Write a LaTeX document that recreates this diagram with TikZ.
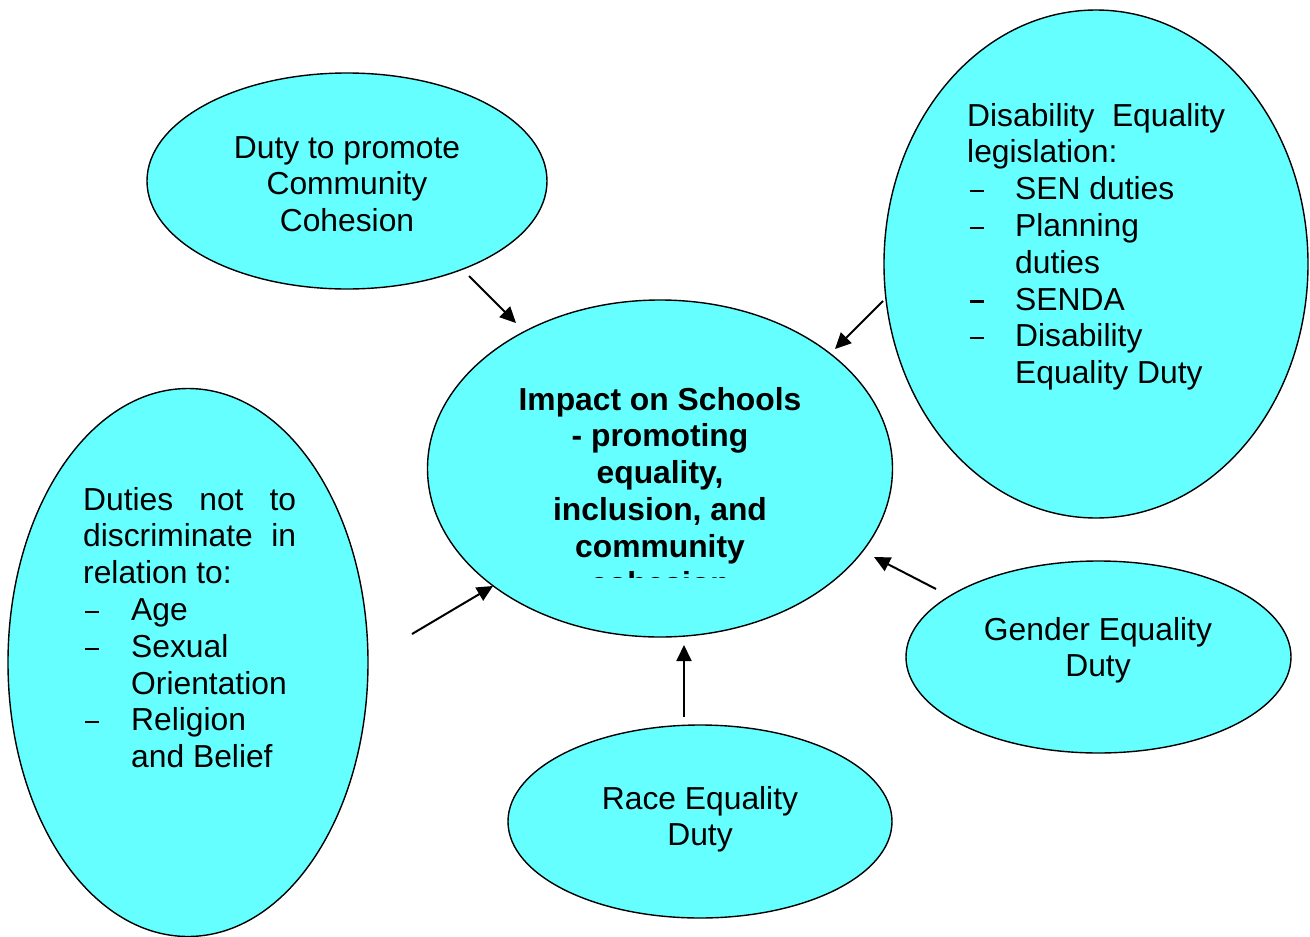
\documentclass[tikz,border=0pt]{standalone}
\usepackage{fontspec}
\setmainfont{Liberation Sans}
\usetikzlibrary{shapes.geometric,arrows.meta}
\definecolor{bubble}{RGB}{102,255,255}
\newcommand{\dashitem}[1]{\makebox[48pt][l]{\hspace{#1}\rule[7.5pt]{14pt}{2.2pt}}}
\begin{document}
\begin{tikzpicture}[x=1pt,y=-1pt,
  bub/.style={draw=black,line width=1.4pt,fill=bubble,ellipse,inner sep=0pt},
  txt/.style={inner sep=0pt,anchor=base,font=\fontsize{31.8}{36.8}\selectfont},
  conn/.style={line width=2pt,-{Triangle[length=16pt,width=15pt]}}]
\useasboundingbox (0,0) rectangle (1310,937);
% ellipses
\node[bub,minimum width=400pt,minimum height=216pt] (comm) at (347,181) {};
\node[bub,minimum width=424pt,minimum height=508pt] (dis) at (1096,264) {};
\node[bub,minimum width=465pt,minimum height=337pt] (imp) at (660,468.5) {};
\node[bub,minimum width=360pt,minimum height=548pt] (discr) at (188,662.5) {};
\node[bub,minimum width=385pt,minimum height=192pt] (gen) at (1098.5,657) {};
\node[bub,minimum width=384pt,minimum height=193pt] (race) at (700,821.5) {};
% texts
\node[txt] (commt) at (347,158) {\begin{tabular}[t]{@{}c@{}}Duty to promote\\Community\\Cohesion\end{tabular}};
\node[txt,anchor=base west] (dist) at (967,126) {\begin{tabular}[t]{@{}l@{}}\makebox[258pt][s]{Disability Equality}\\legislation:\\
\dashitem{2.5pt}SEN duties\\
\dashitem{2.5pt}Planning\\
\hspace{48pt}duties\\
\dashitem{2.5pt}SENDA\\
\dashitem{2.5pt}Disability\\
\hspace{48pt}Equality Duty\end{tabular}};
\begin{scope}
\clip (430,300) rectangle (893,577);
\node[txt,font=\fontsize{31.8}{36.8}\selectfont\bfseries] (impt) at (660,410) {\begin{tabular}[t]{@{}c@{}}Impact on Schools\\- promoting\\equality,\\inclusion, and\\community\\cohesion\end{tabular}};
\end{scope}
\node[txt,anchor=base west] (discrt) at (83,510) {\begin{tabular}[t]{@{}l@{}}\makebox[213pt][s]{Duties not to}\\\makebox[213pt][s]{discriminate in}\\relation to:\\
\dashitem{2pt}Age\\
\dashitem{2pt}Sexual\\
\hspace{48pt}Orientation\\
\dashitem{2pt}Religion\\
\hspace{48pt}and Belief\end{tabular}};
\node[txt] (gent) at (1098,640) {\begin{tabular}[t]{@{}c@{}}Gender Equality\\Duty\end{tabular}};
\node[txt] (racet) at (700,809) {\begin{tabular}[t]{@{}c@{}}Race Equality\\Duty\end{tabular}};
% arrow end points
\coordinate (c1) at (469,276); \coordinate (i1) at (516,323);
\coordinate (c2) at (883,301); \coordinate (i2) at (835,349);
\coordinate (c3) at (412,634); \coordinate (i3) at (493,586);
\coordinate (c4) at (936,589); \coordinate (i4) at (874,557);
\coordinate (c5) at (684,717); \coordinate (i5) at (684,645);
\draw[conn] (c1) -- (i1);
\draw[conn] (c2) -- (i2);
\draw[conn] (c3) -- (i3);
\draw[conn] (c4) -- (i4);
\draw[conn] (c5) -- (i5);
\end{tikzpicture}
\end{document}
